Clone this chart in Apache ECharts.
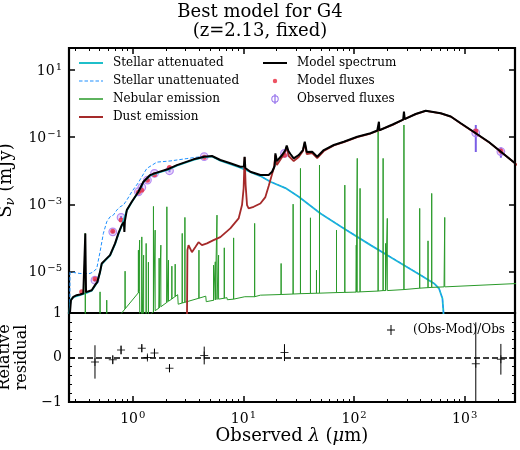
<!DOCTYPE html>
<html><head><meta charset="utf-8">
<script src="https://cdn.jsdelivr.net/npm/echarts@6/dist/echarts.min.js"></script>
<style>html,body{margin:0;padding:0;background:#fff}#chart{width:520px;height:450px}</style>
</head><body><div id="chart"></div>
<script>
// ---------- axis ranges & ticks ----------
const xRange = [0.265, 2850];          // observed wavelength (um)
const fluxRange = [5.8e-7, 45];        // S_nu (mJy)
const residRange = [-1, 1];
const xMajorTicks = [1, 10, 100, 1000];
const xMinorTicks = [0.3,0.4,0.5,0.6,0.7,0.8,0.9,2,3,4,5,6,7,8,9,20,30,40,50,60,70,80,90,200,300,400,500,600,700,800,900,2000];
const fluxTicks = [1e-5, 1e-3, 1e-1, 10];

// ---------- spectra [wavelength um, flux mJy] ----------
const stellarAttenuated = [[0.262,1.8e-7],[0.2704,9.9e-7],[0.276,1.49e-6],[0.290,1.71e-6],[0.333,1.97e-6],[0.3776,2.25e-6],[0.4254,2.68e-6],[0.4555,3.77e-6],[0.478,4.80e-6],[0.5058,9.53e-6],[0.5238,1.65e-5],[0.561,2.10e-5],[0.6228,2.96e-5],[0.6915,6.51e-5],[0.741,1.29e-4],[0.795,2.32e-4],[0.8825,6.49e-4],[0.979,1.16e-3],[1.124,2.31e-3],[1.247,4.59e-3],[1.435,7.17e-3],[1.569,8.06e-3],[2.058,1.06e-2],[2.504,1.42e-2],[3.540,2.11e-2],[4.424,2.55e-2],[5.195,2.64e-2],[6.178,2.00e-2],[7.608,1.58e-2],[9.374,1.24e-2],[11.55,9.12e-3],[14.23,6.92e-3],[17.53,4.69e-3],[23.97,3.04e-3],[31.62,1.67e-3],[49.7,5.35e-4],[80.8,1.91e-4],[141,6.08e-5],[199.8,3.06e-5],[282.5,1.54e-5],[400.3,7.76e-6],[528.3,4.39e-6],[586.2,3.11e-6],[629.4,1.57e-6],[642.7,6.25e-7],[646.9,1.8e-7]];
const stellarUnattenuated = [[0.2693,1.8e-7],[0.2704,9.53e-6],[0.290,9.33e-6],[0.333,8.71e-6],[0.4104,8.71e-6],[0.4396,9.72e-6],[0.472,1.23e-5],[0.5058,3.84e-5],[0.5418,1.36e-4],[0.5813,3.01e-4],[0.6228,4.24e-4],[0.6673,4.76e-4],[0.7163,6.71e-4],[0.767,8.43e-4],[0.822,9.47e-4],[0.8825,1.33e-3],[0.979,2.36e-3],[1.124,4.43e-3],[1.206,6.61e-3],[1.339,1.17e-2],[1.650,1.8e-2],[2.177,1.95e-2],[3.084,2.3e-2],[4.424,2.7e-2],[5.195,2.7e-2],[6.178,2.03e-2],[7.608,1.60e-2],[9.374,1.25e-2],[11.55,9.2e-3],[14.23,6.95e-3],[17.53,4.72e-3],[23.97,3.06e-3],[31.62,1.68e-3],[49.7,5.4e-4],[80.8,1.93e-4],[141,6.15e-5],[199.8,3.1e-5],[282.5,1.56e-5],[400.3,7.85e-6],[528.3,4.44e-6],[586.2,3.15e-6],[629.4,1.59e-6],[642.7,6.35e-7],[646.9,1.8e-7]];
const nebularContinuum = [[0.7834,5.5e-7],[1.152,2.59e-6],[1.159,1.8e-7],[1.465,5.6e-7],[2.545,2.03e-6],[2.572,1.06e-6],[4.565,1.84e-6],[4.613,1.26e-6],[7.10,1.66e-6],[7.15,1.44e-6],[10.29,1.77e-6],[10.41,1.66e-6],[14.23,1.97e-6],[32.77,2.18e-6],[114.5,2.47e-6],[650.8,3.48e-6],[3027,4.39e-6]];
// emission lines: [wavelength, flux at line base, flux at line peak]
const nebularLines = [[0.3721,1e-7,1.36e-4],[0.5058,1e-7,2.47e-6],[0.5813,1e-7,1.40e-6],[0.8516,7.7e-7,1.02e-5],[1.124,2.33e-6,4.31e-5],[1.152,2.59e-6,8.57e-5],[1.206,1e-7,1.07e-4],[1.2526,1e-7,3.05e-5],[1.320,1e-7,6.84e-5],[1.384,1e-7,1.89e-5],[1.537,6.2e-7,8.65e-4],[1.592,6.8e-7,1.70e-4],[1.730,8.2e-7,2.49e-5],[1.793,8.9e-7,6.08e-5],[2.032,1.20e-6,8.43e-4],[2.101,1.29e-6,2.17e-5],[2.255,1.52e-6,1.44e-5],[2.416,1.80e-6,1.65e-5],[2.797,1.15e-6,1.36e-4],[2.958,1.21e-6,4.07e-4],[3.962,1.60e-6,4.31e-5],[5.37,1.39e-6,1.54e-5],[5.567,1.42e-6,1.94e-5],[5.767,1.46e-6,4.76e-4],[5.963,1.50e-6,3.05e-5],[6.714,1.60e-6,5.06e-5],[8.152,1.50e-6,1.0e-4],[12.63,1.77e-6,2.70e-4],[21.91,2.06e-6,1.73e-5],[28.13,2.13e-6,1.01e-3],[32.77,2.18e-6,1.17e-2],[40.36,2.22e-6,3.96e-4],[45.74,2.25e-6,1.09e-5],[48.71,2.26e-6,1.47e-2],[69.4,2.35e-6,1.70e-4],[82.5,2.38e-6,3.73e-3],[104.7,2.43e-6,6.08e-5],[106.9,2.43e-6,2.33e-2],[113.3,2.47e-6,2.98e-3],[165.0,2.61e-6,0.187],[183.1,2.7e-6,2.33e-2],[192.9,2.7e-6,6.84e-5],[199.8,2.7e-6,3.80e-4],[282.5,2.89e-6,0.2296],[392.0,3.18e-6,7.55e-4],[466.2,3.3e-6,8.16e-5],[503.5,3.35e-6,2.11e-3],[660.3,3.48e-6,4.07e-4]];
const dustEmission = [[3.084,1.8e-7],[3.117,4.31e-5],[3.189,6.08e-5],[3.304,6.29e-5],[3.422,3.76e-5],[3.667,5.30e-5],[3.928,7.47e-5],[4.217,6.08e-5],[4.68,6.84e-5],[5.37,8.58e-5],[6.18,1.05e-4],[7.61,1.91e-4],[9.05,3.80e-4],[9.71,9.47e-4],[10.04,2.98e-3],[10.25,2.55e-2],[10.47,3.73e-3],[10.78,9.47e-4],[11.14,7.55e-4],[12.37,8.43e-4],[14.23,1.06e-3],[15.79,1.64e-3],[16.92,3.48e-3],[18.16,7.94e-3],[18.85,1.20e-2],[19.45,2.93e-2],[20.07,1.47e-2],[22.37,2.55e-2],[23.97,3.85e-2],[24.62,5.07e-2],[25.66,2.74e-2],[28.49,1.94e-2],[31.62,2.55e-2],[34.52,3.85e-2],[35.84,6.67e-2],[37.36,3.14e-2],[41.82,3.36e-2],[46.42,2.38e-2],[53.27,3.85e-2],[65.6,5.62e-2],[80.8,7.1e-2],[106.9,0.100],[141,0.128],[162.2,0.152],[223.2,0.232],[282.5,0.340],[360.6,0.483],[444.4,0.605],[607.5,0.507],[748,0.408],[921.9,0.256],[1261,0.129],[1653,0.0709],[2123,0.0365],[3027,0.0141]];
const modelSpectrum = [[0.265,2.5e-7],[0.276,1.39e-6],[0.290,1.75e-6],[0.311,1.97e-6],[0.333,2.06e-6],[0.357,2.21e-6],[0.3667,2.33e-6],[0.3721,1.36e-4],[0.3776,2.42e-6],[0.4254,2.77e-6],[0.4555,3.91e-6],[0.478,4.90e-6],[0.5058,9.72e-6],[0.5238,1.73e-5],[0.561,2.17e-5],[0.6228,3.06e-5],[0.6915,6.84e-5],[0.741,1.36e-4],[0.795,2.40e-4],[0.8306,2.95e-4],[0.839,1.49e-4],[0.848,3.16e-4],[0.8825,6.71e-4],[0.979,1.19e-3],[1.124,2.36e-3],[1.247,4.69e-3],[1.435,7.42e-3],[1.569,8.34e-3],[2.058,1.10e-2],[2.504,1.47e-2],[3.540,2.18e-2],[4.424,2.61e-2],[5.195,2.74e-2],[6.178,2.08e-2],[7.608,1.66e-2],[9.374,1.31e-2],[10.10,1.33e-2],[10.25,2.61e-2],[10.40,1.20e-2],[11.55,9.31e-3],[14.23,7.42e-3],[16.92,7.42e-3],[18.16,9.31e-3],[19.17,1.38e-2],[19.45,3.29e-2],[20.07,1.94e-2],[22.37,2.93e-2],[23.97,4.12e-2],[24.62,5.62e-2],[25.51,3.85e-2],[26.60,3.14e-2],[28.49,2.33e-2],[31.62,2.93e-2],[34.52,4.12e-2],[35.84,7.29e-2],[37.36,3.60e-2],[41.82,3.67e-2],[46.42,2.61e-2],[53.27,4.12e-2],[65.6,5.82e-2],[80.8,7.29e-2],[106.9,0.1028],[141.0,0.130],[162.2,0.157],[165.9,0.158],[167.8,0.288],[169.6,0.160],[223.2,0.2375],[277.9,0.332],[282.5,0.571],[287.2,0.344],[360.6,0.488],[444.4,0.612],[607.5,0.512],[748,0.411],[921.9,0.258],[1261,0.130],[1653,0.0714],[2123,0.0367],[3027,0.0142]];

// ---------- photometry ----------
const modelFluxWl = [0.345,0.455,0.659,0.783,1.124,1.206,1.356,1.570,2.146,4.42,23.5,1260,2124];
const modelFlux   = [2.47e-6,6.0e-6,1.58e-4,3.4e-4,2.3e-3,2.6e-3,5.2e-3,7.6e-3,1.24e-2,2.5e-2,2.9e-2,0.152,0.0385];
const obsWl   = [0.455,0.659,0.783,1.124,1.206,1.356,1.570,2.146,4.42,23.5,1260,2124];
const obsFlux = [5.5e-6,1.51e-4,4.07e-4,2.36e-3,3.19e-3,5.26e-3,8.34e-3,9.97e-3,2.61e-2,3.29e-2,0.133,0.037];
const obsErr  = [5e-7,1.5e-5,4e-5,2e-4,3e-4,5e-4,8e-4,1e-3,3e-3,3e-3,0.097,0.0127];
// ---------- relative residuals ----------
const residWl  = [0.455,0.659,0.783,1.206,1.356,1.570,2.146,4.42,23.5,1260,2124];
const residVal = [-0.10,-0.05,0.17,0.21,0.0,0.10,-0.24,0.045,0.11,-0.14,-0.04];
const residErr = [0.375,0.10,0.10,0.09,0.05,0.10,0.09,0.20,0.19,0.93,0.345];

// ---------- styling ----------
const FONT = '"DejaVu Serif", serif';
const C = {att:'#1fbfca', unatt:'#1e90ff', neb:'#2a9a2a', dust:'#a52a2a', model:'#000000', mflux:'#e8283c', obsBar:'#7a5ee6', obsCirc:'#b68cf2'};
const lg = Math.log10;
const expLabel = v => { const e = Math.round(v); return '{b|10}{s|' + (e < 0 ? '\u2212' + (-e) : e) + '}'; };
const tickRich = {
  b:{fontFamily:FONT,fontSize:14,color:'#000',lineHeight:16,verticalAlign:'bottom'},
  s:{fontFamily:FONT,fontSize:10,color:'#000',lineHeight:10,verticalAlign:'top',padding:[0,0,6,1]}
};
const majorTick = vals => ({show:true,inside:true,length:6,lineStyle:{color:'#000',width:1.5},customValues:vals});
const minorTickA = vals => ({show:true,inside:true,length:3,lineStyle:{color:'#000',width:1},customValues:vals});
const noLine = {show:false,onZero:false};
const base = {splitLine:{show:false},minorSplitLine:{show:false},axisLine:noLine};

const xMajLog = xMajorTicks.map(lg), xMinLog = xMinorTicks.map(lg), yMajLog = fluxTicks.map(lg);

// nebular spectrum = continuum + lines
const nebularData = nebularContinuum.map(p => [p[0], p[1]]);
nebularLines.forEach(l => { nebularData.push([l[0], l[1]], [l[0], l[2]], [l[0], l[1]]); });
nebularData.sort((a, b) => a[0] - b[0]);

const dummy = w => 'M0,0h0.01v0.01h-0.01z M' + (w - 0.01) + ',9.99h0.01v0.01h-0.01z ';
const bandIcon = t => 'path://' + dummy(29) + 'M0,' + (5 - t/2) + 'h24v' + t + 'h-24z';
const dashIcon = () => { let s = 'path://' + dummy(29); for (let x = 0; x < 24; x += 5.5) { const L = Math.min(3.5, 24 - x); s += ' M' + x + ',4.4h' + L + 'v1.2h-' + L + 'z'; } return s; };
const dotIcon = 'path://' + dummy(29) + 'M9.8,5a2.2,2.2 0 1,1 4.4,0a2.2,2.2 0 1,1 -4.4,0z';
const obsIcon = 'path://' + dummy(29) + 'M8.3,5a3.7,3.7 0 1,1 7.4,0a3.7,3.7 0 1,1 -7.4,0z M9.3,5a2.7,2.7 0 1,0 5.4,0a2.7,2.7 0 1,0 -5.4,0z M11.4,0h1.2v10h-1.2z';
const crossIcon = 'path://' + dummy(21) + 'M3.5,0h1v10h-1z M0,4.5h8v1h-8z';
const legText = {fontFamily:FONT,fontSize:12,color:'#000'};

const chart = echarts.init(document.getElementById('chart'));
chart.setOption({
  animation:false,
  backgroundColor:'#fff',
  title:{text:'Best model for G4\n(z=2.13, fixed)',left:'center',top:3,padding:[0,0,0,12],
    textStyle:{fontFamily:FONT,fontSize:18,fontWeight:'normal',color:'#000',lineHeight:19}},
  grid:[
    {left:69,right:5,top:48,height:265,show:true,borderColor:'#000',borderWidth:2.2,backgroundColor:'rgba(0,0,0,0)',outerBoundsMode:'none'},
    {left:69,right:5,top:313,height:89,show:true,borderColor:'#000',borderWidth:2.2,backgroundColor:'rgba(0,0,0,0)',outerBoundsMode:'none'}
  ],
  legend:[
    {left:79,top:57,orient:'vertical',padding:0,itemGap:6,itemWidth:29,itemHeight:10,selectedMode:false,textStyle:legText,itemStyle:{borderWidth:0},
     data:[
      {name:'Stellar attenuated',icon:bandIcon(2),itemStyle:{color:C.att,borderWidth:0}},
      {name:'Stellar unattenuated',icon:dashIcon(),itemStyle:{color:C.unatt,borderWidth:0}},
      {name:'Nebular emission',icon:bandIcon(1.6),itemStyle:{color:C.neb,borderWidth:0}},
      {name:'Dust emission',icon:bandIcon(2),itemStyle:{color:C.dust,borderWidth:0}}
     ]},
    {left:263,top:57,orient:'vertical',padding:0,itemGap:6,itemWidth:29,itemHeight:10,selectedMode:false,textStyle:legText,itemStyle:{borderWidth:0},
     data:[
      {name:'Model spectrum',icon:bandIcon(2),itemStyle:{color:C.model,borderWidth:0}},
      {name:'Model fluxes',icon:dotIcon,itemStyle:{color:C.mflux,borderWidth:0}},
      {name:'Observed fluxes',icon:obsIcon,itemStyle:{color:'#9470ec',borderWidth:0}}
     ]},
    {left:387,top:324,orient:'vertical',padding:0,itemWidth:21,itemHeight:10,selectedMode:false,textStyle:legText,itemStyle:{borderWidth:0},
     data:[{name:'(Obs-Mod)/Obs',icon:crossIcon,itemStyle:{color:'#000',borderWidth:0}}]}
  ],
  xAxis:[
    {type:'log',gridIndex:0,min:xRange[0],max:xRange[1],show:false},
    {type:'log',gridIndex:1,min:xRange[0],max:xRange[1],show:false},
    Object.assign({type:'value',gridIndex:0,position:'top',min:lg(xRange[0]),max:lg(xRange[1]),axisTick:majorTick(xMajLog),axisLabel:{show:false}},base),
    Object.assign({type:'value',gridIndex:0,position:'top',min:lg(xRange[0]),max:lg(xRange[1]),axisTick:minorTickA(xMinLog),axisLabel:{show:false}},base),
    Object.assign({type:'value',gridIndex:1,position:'bottom',min:lg(xRange[0]),max:lg(xRange[1]),axisTick:majorTick(xMajLog),
      axisLabel:{show:true,customValues:xMajLog,formatter:expLabel,rich:tickRich,margin:8},
      name:'{a|Observed }{i|\u03bb}{a| (}{i|\u03bc}{a|m)}',nameLocation:'middle',nameGap:24,
      nameTextStyle:{fontFamily:FONT,fontSize:18,color:'#000',rich:{a:{fontFamily:FONT,fontSize:18,color:'#000'},i:{fontFamily:FONT,fontSize:18,fontStyle:'italic',color:'#000'}}}},base),
    Object.assign({type:'value',gridIndex:1,position:'bottom',min:lg(xRange[0]),max:lg(xRange[1]),axisTick:minorTickA(xMinLog),axisLabel:{show:false}},base)
  ],
  yAxis:[
    {type:'log',gridIndex:0,min:fluxRange[0],max:fluxRange[1],show:false},
    Object.assign({type:'value',gridIndex:1,position:'left',min:residRange[0],max:residRange[1],interval:1,
      axisTick:{show:true,inside:true,length:6,lineStyle:{color:'#000',width:1.5}},
      minorTick:{show:true,splitNumber:5,length:3,lineStyle:{color:'#000',width:1}},
      axisLabel:{fontFamily:FONT,fontSize:14,color:'#000',margin:7,formatter:v => v < 0 ? '\u2212' + (-v) : String(v)},
      name:'Relative\nresidual',nameLocation:'middle',nameGap:34,
      nameTextStyle:{fontFamily:FONT,fontSize:16,color:'#000',lineHeight:17}},base),
    Object.assign({type:'value',gridIndex:1,position:'right',min:residRange[0],max:residRange[1],interval:1,
      axisTick:{show:true,inside:true,length:6,lineStyle:{color:'#000',width:1.5}},
      minorTick:{show:true,splitNumber:5,length:3,lineStyle:{color:'#000',width:1}},
      axisLabel:{show:false}},base),
    Object.assign({type:'value',gridIndex:0,position:'left',min:lg(fluxRange[0]),max:lg(fluxRange[1]),
      axisTick:majorTick(yMajLog),
      axisLabel:{show:true,customValues:yMajLog,formatter:expLabel,rich:tickRich,margin:7},
      name:'{a|S}{v|\u03bd}{a| (mJy)}',nameLocation:'middle',nameGap:41,
      nameTextStyle:{fontFamily:FONT,fontSize:18,color:'#000',rich:{a:{fontFamily:FONT,fontSize:18,color:'#000',lineHeight:18,verticalAlign:'top'},v:{fontFamily:FONT,fontSize:13,fontStyle:'italic',color:'#000',lineHeight:13,verticalAlign:'top',padding:[7,0,0,0]}}}},base),
    Object.assign({type:'value',gridIndex:0,position:'right',min:lg(fluxRange[0]),max:lg(fluxRange[1]),
      axisTick:majorTick(yMajLog),axisLabel:{show:false}},base)
  ],
  series:[
    {name:'Stellar attenuated',type:'line',xAxisIndex:0,yAxisIndex:0,data:stellarAttenuated,symbol:'none',color:C.att,lineStyle:{color:C.att,width:1.8},clip:true},
    {name:'Stellar unattenuated',type:'line',xAxisIndex:0,yAxisIndex:0,data:stellarUnattenuated,symbol:'none',color:C.unatt,lineStyle:{color:C.unatt,width:1,type:[3.5,2]},clip:true},
    {name:'Nebular emission',type:'line',xAxisIndex:0,yAxisIndex:0,data:nebularData,symbol:'none',color:C.neb,lineStyle:{color:C.neb,width:1},clip:true},
    {name:'Dust emission',type:'line',xAxisIndex:0,yAxisIndex:0,data:dustEmission,symbol:'none',color:C.dust,lineStyle:{color:C.dust,width:1.8},clip:true},
    {name:'Model spectrum',type:'line',xAxisIndex:0,yAxisIndex:0,data:modelSpectrum,symbol:'none',color:C.model,lineStyle:{color:C.model,width:2},clip:true},
    {name:'Model fluxes',type:'scatter',xAxisIndex:0,yAxisIndex:0,symbol:'circle',symbolSize:5,color:C.mflux,
      data:modelFluxWl.map((w,i) => [w, modelFlux[i]])},
    {name:'Observed fluxes',type:'custom',xAxisIndex:0,yAxisIndex:0,clip:true,encode:{x:0,y:1},
      data:obsWl.map((w,i) => [w, obsFlux[i], obsErr[i]]),
      renderItem:(params, api) => {
        const x = api.value(0), y = api.value(1), e = api.value(2);
        const c = api.coord([x, y]), hi = api.coord([x, y + e]), lo = api.coord([x, y - e]);
        return {type:'group',children:[
          {type:'line',shape:{x1:c[0],y1:hi[1],x2:c[0],y2:lo[1]},style:{stroke:C.obsBar,lineWidth:2}},
          {type:'circle',shape:{cx:c[0],cy:c[1],r:3.8},style:{fill:'rgba(190,150,245,0.35)',stroke:C.obsCirc,lineWidth:1.2}}
        ]};
      }},
    {name:'(Obs-Mod)/Obs',type:'custom',xAxisIndex:1,yAxisIndex:1,clip:true,encode:{x:0,y:1},
      data:residWl.map((w,i) => [w, residVal[i], residErr[i]]),
      renderItem:(params, api) => {
        const x = api.value(0), y = api.value(1), e = api.value(2);
        const hi = api.coord([x, y + e]), lo = api.coord([x, y - e]);
        return {type:'line',shape:{x1:hi[0],y1:hi[1],x2:lo[0],y2:lo[1]},style:{stroke:'#000',lineWidth:1}};
      }},
    {name:'(Obs-Mod)/Obs',type:'scatter',xAxisIndex:1,yAxisIndex:1,symbol:'path://M3.5,0h1v8h-1z M0,3.5h8v1h-8z',symbolSize:[8,8],color:'#000',
      data:residWl.map((w,i) => [w, residVal[i]]),
      markLine:{silent:true,symbol:['none','none'],label:{show:false},lineStyle:{type:[6,3],color:'#000',width:1.5},data:[{yAxis:0}]}}
  ]
});
</script></body></html>
